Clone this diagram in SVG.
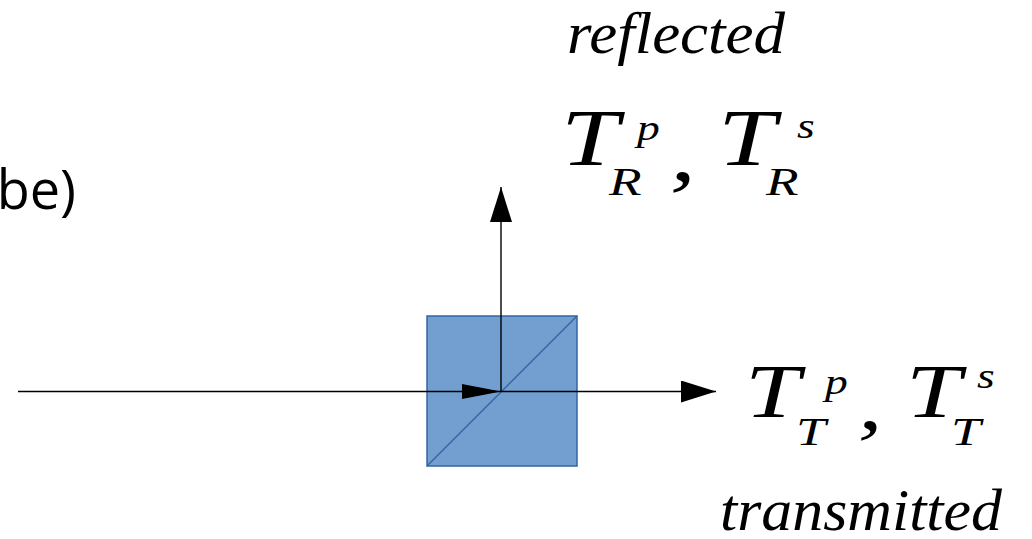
<svg xmlns="http://www.w3.org/2000/svg" width="1032" height="539" viewBox="0 0 1032 539">
  <style>
    .m { font-family: "Liberation Serif", "Times New Roman", serif; font-style: italic; fill: #000; }
    .big { font-size: 80px; }
    .big2 { font-size: 76px; }
    .sub { font-size: 41px; }
    .sup { font-size: 35px; }
    .word { font-family: "Liberation Serif", "Times New Roman", serif; font-style: italic; font-size: 60px; fill: #000; }
    .sans { font-family: "Open Sans", "Noto Sans", sans-serif; font-size: 54px; fill: #000; }
    .line { stroke: #000; stroke-width: 1.4; fill: none; }
  </style>
  <defs>
    <marker id="arrS" markerUnits="userSpaceOnUse" markerWidth="40" markerHeight="16" refX="39" refY="7.5" orient="auto">
      <path d="M0,0 L39,7.5 L0,15 Z" fill="#000"/>
    </marker>
    <marker id="arrL" markerUnits="userSpaceOnUse" markerWidth="36" markerHeight="24" refX="35" refY="11" orient="auto">
      <path d="M0,0 L35,11 L0,22 Z" fill="#000"/>
    </marker>
  </defs>

  <g id="label-left">
    <text class="sans" x="76" y="209" text-anchor="end">be)</text>
  </g>

  <g id="cube">
    <rect x="427" y="316" width="150" height="150" fill="#729fcf" stroke="#3465a4" stroke-width="1.5"/>
    <line x1="427" y1="466" x2="577" y2="316" stroke="#3465a4" stroke-width="1.5"/>
  </g>

  <g id="connectors">
    <line class="line" x1="18" y1="391.5" x2="501" y2="391.5" marker-end="url(#arrS)"/>
    <line class="line" x1="501" y1="391.5" x2="716" y2="391.5" marker-end="url(#arrL)"/>
    <line class="line" x1="501" y1="391.5" x2="501" y2="187" marker-end="url(#arrL)"/>
  </g>

  <g id="reflected">
    <text class="word" x="567" y="53" textLength="218" lengthAdjust="spacingAndGlyphs">reflected</text>
    <g class="m">
      <text class="big" transform="translate(561,165) scale(1.3,1)">T</text>
      <text class="sup" transform="translate(637,140) scale(1.3,1)">p</text>
      <text class="sub" transform="translate(609,195) scale(1.3,1)">R</text>
      <text class="big" transform="translate(670,180) scale(1.3,1)">,</text>
      <text class="big" transform="translate(718,165) scale(1.3,1)">T</text>
      <text class="sup" transform="translate(797,138) scale(1.3,1)">s</text>
      <text class="sub" transform="translate(766,195) scale(1.3,1)">R</text>
    </g>
  </g>

  <g id="transmitted">
    <g class="m">
      <text class="big2" transform="translate(745,417) scale(1.3,1)">T</text>
      <text class="sup" transform="translate(825,394) scale(1.3,1)">p</text>
      <text class="sub" transform="translate(796,445) scale(1.3,1)">T</text>
      <text class="big2" transform="translate(858,429) scale(1.3,1)">,</text>
      <text class="big2" transform="translate(906,417) scale(1.3,1)">T</text>
      <text class="sup" transform="translate(977,388) scale(1.3,1)">s</text>
      <text class="sub" transform="translate(951,445) scale(1.3,1)">T</text>
    </g>
    <text class="word" x="720" y="530" textLength="282" lengthAdjust="spacingAndGlyphs">transmitted</text>
  </g>
</svg>
